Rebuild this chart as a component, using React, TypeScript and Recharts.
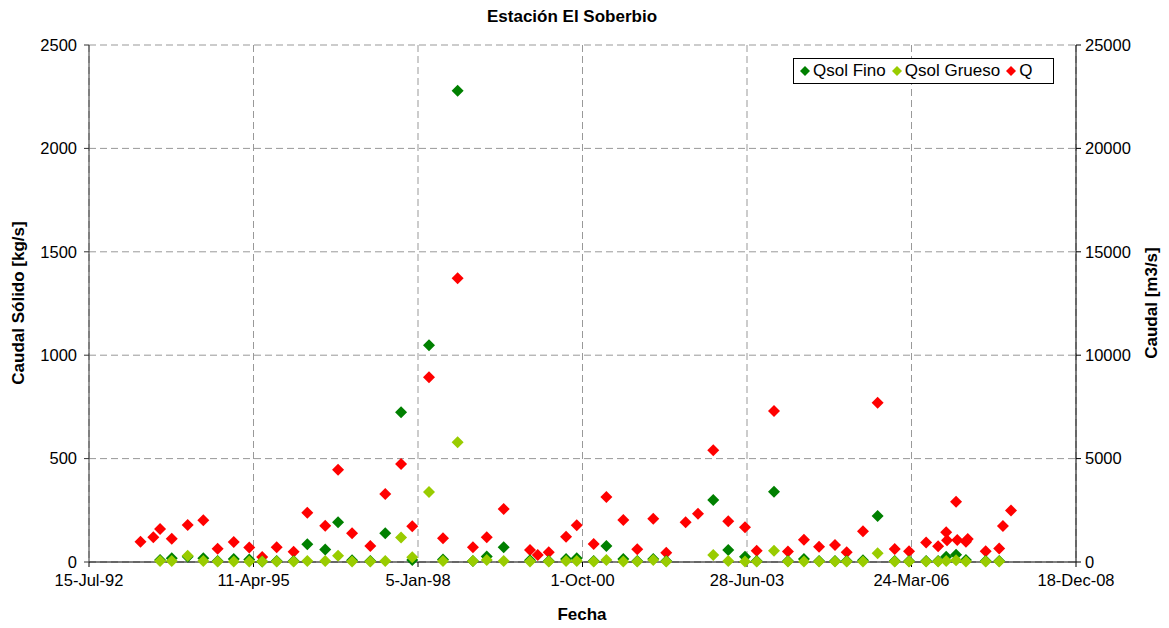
import { ScatterChart, Scatter, XAxis, YAxis, CartesianGrid } from "recharts"

// fechas de muestreo (aforos) en El Soberbio
const fechas = [
  "1993-05-24", "1993-08-10", "1993-09-20", "1993-11-30", "1994-03-07", "1994-06-10", "1994-09-05", "1994-12-12",
  "1995-03-16", "1995-06-03", "1995-08-30", "1995-12-11", "1996-03-03", "1996-06-20", "1996-09-06", "1996-11-30",
  "1997-03-21", "1997-06-20", "1997-09-24", "1997-12-01", "1998-03-13", "1998-06-06", "1998-09-03", "1998-12-05",
  "1999-02-27", "1999-06-10", "1999-11-17", "2000-01-03", "2000-03-10", "2000-06-23", "2000-08-27", "2000-12-08",
  "2001-02-23", "2001-06-06", "2001-08-30", "2001-12-05", "2002-02-22", "2002-06-20", "2002-09-03", "2002-12-05",
  "2003-03-06", "2003-06-16", "2003-08-26", "2003-12-09", "2004-03-03", "2004-06-08", "2004-09-08", "2004-12-14",
  "2005-02-23", "2005-06-02", "2005-08-30", "2005-12-12", "2006-03-09", "2006-06-21", "2006-09-02", "2006-10-21",
  "2006-10-26", "2006-12-20", "2006-12-27", "2007-02-18", "2007-03-01", "2007-06-18", "2007-09-08", "2007-10-01",
  "2007-11-19",
]

// Q [m3/s]
const caudalQ = [
  975, 1194, 1596, 1120, 1789, 2016, 636, 967,
  700, 240, 711, 498, 2384, 1755, 4463, 1388,
  774, 3288, 4739, 1726, 8931, 1146, 13718, 711,
  1194, 2563, 580, 338, 469, 1223, 1775, 870,
  3143, 2031, 614, 2094, 450, 1920, 2336, 5401,
  1968, 1678, 546, 7302, 510, 1070, 740, 822,
  469, 1485, 7703, 629, 520, 943, 757, 1436,
  1047, 2908, 1064, 982, 1112, 520, 650, 1740,
  2490,
]

// Qsol Fino [kg/s]
const qsolFino = [
  null, null, 10, 18, 25, 18, 5, 15,
  12, 3, 5, 5, 86, 61, 192, 8,
  5, 139, 724, 10, 1048, 12, 2279, 5,
  26, 71, 8, null, 5, 15, 18, 5,
  77, 15, 5, 15, 5, null, null, 300,
  58, 25, 5, 340, 5, 15, 5, 5,
  5, 8, 222, 5, 5, 5, 5, 25,
  null, 35, null, 10, null, 5, 5, null,
  null,
]

// Qsol Grueso [kg/s]
const qsolGrueso = [
  null, null, 5, 5, 30, 5, 3, 3,
  3, 2, 3, 3, 5, 5, 30, 3,
  3, 5, 119, 23, 338, 5, 579, 5,
  10, 5, 3, null, 3, 5, 5, 3,
  10, 3, 3, 10, 3, null, null, 34,
  5, 3, 3, 55, 3, 3, 3, 3,
  3, 3, 42, 3, 3, 3, 3, 5,
  null, 8, null, 3, null, 3, 3, null,
  null,
]

const xTicks = ["1992-07-15", "1995-04-11", "1998-01-05", "2000-10-01", "2003-06-28", "2006-03-24", "2008-12-18"]
const leftTicks = [0, 500, 1000, 1500, 2000, 2500]
const rightTicks = [0, 5000, 10000, 15000, 20000, 25000]

const meses = ["Jan", "Feb", "Mar", "Apr", "May", "Jun", "Jul", "Aug", "Sep", "Oct", "Nov", "Dec"]

const toDay = (s: string) => {
  const [y, m, d] = s.split("-").map(Number)
  return Date.UTC(y, m - 1, d) / 86400000
}
const fmtFecha = (day: number) => {
  const dt = new Date(Math.round(day) * 86400000)
  return `${dt.getUTCDate()}-${meses[dt.getUTCMonth()]}-${String(dt.getUTCFullYear()).slice(2)}`
}

const serie = (vals: (number | null)[]) =>
  fechas.map((f, i) => ({ t: toDay(f), v: vals[i] })).filter((p) => p.v !== null)

const dataQ = serie(caudalQ)
const dataFino = serie(qsolFino)
const dataGrueso = serie(qsolGrueso)

const FONT = '"Liberation Sans", Arial, sans-serif'
const VERDE = "#008000"
const VERDE_CLARO = "#99CC00"
const ROJO = "#FF0000"

const diamante = (color: string, r: number) => (props: any) => {
  const { cx, cy } = props
  if (cx == null || cy == null) return <g />
  return <path d={`M${cx},${cy - r}L${cx + r},${cy}L${cx},${cy + r}L${cx - r},${cy}Z`} fill={color} />
}

const items = [
  { name: "Qsol Fino", color: VERDE },
  { name: "Qsol Grueso", color: VERDE_CLARO },
  { name: "Q", color: ROJO },
]

const Leyenda = () => (
  <div
    style={{
      position: "absolute",
      left: 793,
      top: 58,
      border: "1px solid #000",
      background: "#fff",
      height: 24,
      width: 259,
      display: "flex",
      alignItems: "center",
      fontFamily: FONT,
      fontSize: 17,
    }}
  >
    {items.map((it) => (
      <span key={it.name} style={{ display: "flex", alignItems: "center", marginLeft: 6 }}>
        <svg width={10} height={10} style={{ marginRight: 3 }}>
          <path d="M5,0L10,5L5,10L0,5Z" fill={it.color} />
        </svg>
        {it.name}
      </span>
    ))}
  </div>
)

const tickStyle = { fontFamily: FONT, fontSize: 16.5, fill: "#000" }
const tituloStyle: React.CSSProperties = {
  position: "absolute",
  fontFamily: FONT,
  fontWeight: "bold",
  fontSize: 17,
  whiteSpace: "nowrap",
  transform: "translate(-50%, -50%)",
}

export default function App() {
  return (
    <div style={{ position: "absolute", left: 0, top: 0, width: 1169, height: 628, background: "#fff" }}>
      <ScatterChart width={1169} height={628} margin={{ top: 45, right: 0, bottom: 0, left: 0 }}>
        <CartesianGrid yAxisId="l" stroke="#999" strokeDasharray="7 4" />
        <XAxis
          type="number"
          dataKey="t"
          domain={[toDay(xTicks[0]), toDay(xTicks[6])]}
          ticks={xTicks.map(toDay)}
          tickFormatter={fmtFecha}
          height={66}
          tick={tickStyle}
          tickSize={5}
          tickMargin={7}
          stroke="#000"
          allowDataOverflow
        />
        <YAxis
          yAxisId="l"
          type="number"
          dataKey="v"
          domain={[0, 2500]}
          ticks={leftTicks}
          width={89}
          tick={tickStyle}
          tickSize={5}
          tickMargin={7}
          stroke="#333"
        />
        <YAxis
          yAxisId="r"
          orientation="right"
          type="number"
          dataKey="v"
          domain={[0, 25000]}
          ticks={rightTicks}
          width={93}
          tick={tickStyle}
          tickSize={5}
          tickMargin={4}
          stroke="#000"
        />
        <Scatter name="Q" data={dataQ} yAxisId="r" fill={ROJO} shape={diamante(ROJO, 6)} isAnimationActive={false} />
        <Scatter name="Qsol Fino" data={dataFino} yAxisId="l" fill={VERDE} shape={diamante(VERDE, 6)} isAnimationActive={false} />
        <Scatter name="Qsol Grueso" data={dataGrueso} yAxisId="l" fill={VERDE_CLARO} shape={diamante(VERDE_CLARO, 6)} isAnimationActive={false} />
      </ScatterChart>
      <Leyenda />
      <div style={{ ...tituloStyle, left: 572, top: 17 }}>Estación El Soberbio</div>
      <div style={{ ...tituloStyle, left: 582, top: 615 }}>Fecha</div>
      <div style={{ ...tituloStyle, left: 19, top: 303, transform: "translate(-50%, -50%) rotate(-90deg)" }}>
        Caudal Sólido [kg/s]
      </div>
      <div style={{ ...tituloStyle, left: 1152, top: 303, transform: "translate(-50%, -50%) rotate(-90deg)" }}>
        Caudal [m3/s]
      </div>
    </div>
  )
}
